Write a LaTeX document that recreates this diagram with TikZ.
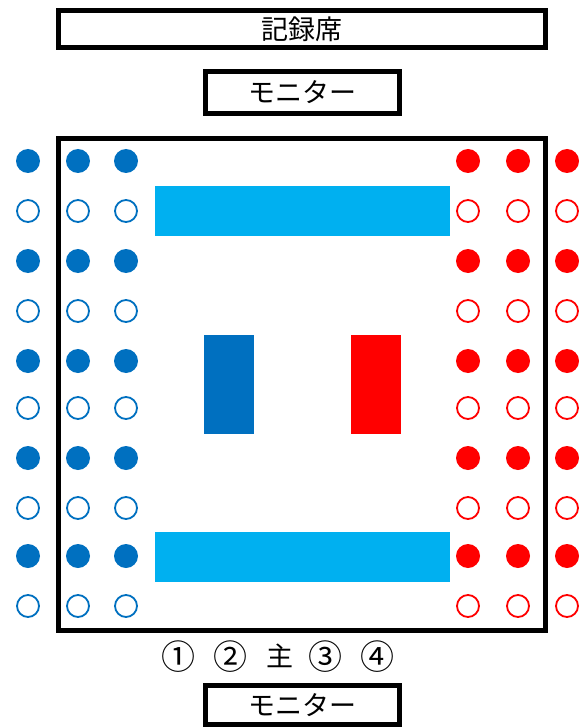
\documentclass[tikz,border=0pt]{standalone}
\usepackage{fontspec}
\setmainfont{Noto Sans CJK JP}
\usetikzlibrary{positioning}
\definecolor{teamblue}{HTML}{0070C0}
\definecolor{teamred}{HTML}{FF0000}
\definecolor{benchblue}{HTML}{00B0F0}
\tikzset{
  framebox/.style={draw=black,line width=5pt,inner sep=0pt},
  seaton/.style={circle,fill=#1,inner sep=0pt,minimum size=24pt},
  seatoff/.style={circle,draw=#1,line width=1.8pt,inner sep=0pt,minimum size=22pt},
  bench/.style={fill=benchblue,inner sep=0pt,minimum width=295pt,minimum height=50pt},
  flag/.style={fill=#1,inner sep=0pt,minimum width=50pt,minimum height=99pt},
  judgelab/.style={font=\fontsize{34pt}{36pt}\selectfont},
  every node/.style={font=\fontsize{27pt}{29pt}\selectfont}}
\begin{document}
\begin{tikzpicture}[x=1pt,y=-1pt]
\useasboundingbox (0,0) rectangle (584,727);
% recorder table and monitors
\node[framebox,minimum width=487pt,minimum height=37pt] (record) at (302,29) {記録席};
\node[framebox,minimum width=194pt,minimum height=42pt] (montop) at (302.5,92.5) {モニター};
\node[framebox,minimum width=194pt,minimum height=39pt] (monbot) at (302.5,705) {モニター};
% court
\node[framebox,minimum width=487pt,minimum height=492pt] (court) at (302,384.5) {};
\node[bench] (benchtop) at (302.5,211) {};
\node[bench] (benchbot) at (302.5,556.5) {};
\node[flag=teamblue] (blueflag) at (229,384.5) {};
\node[flag=teamred] (redflag) at (376,384.5) {};
% seats, filled on odd rows
\foreach \r/\y in {1/161,2/211,3/261,4/311,5/361,6/408,7/458,8/508,9/556,10/606} {
  \pgfmathparse{isodd(\r)}
  \ifnum\pgfmathresult=1
    \foreach \c/\x in {1/28,2/78,3/126} \node[seaton=teamblue] (b\r\c) at (\x,\y) {};
    \foreach \c/\x in {1/468,2/518,3/567} \node[seaton=teamred] (r\r\c) at (\x,\y) {};
  \else
    \foreach \c/\x in {1/28,2/78,3/126} \node[seatoff=teamblue] (b\r\c) at (\x,\y) {};
    \foreach \c/\x in {1/468,2/518,3/567} \node[seatoff=teamred] (r\r\c) at (\x,\y) {};
  \fi
}
% judges
\foreach \lab/\x [count=\i] in {①/178.5,②/230.5,③/325.5,④/377}
  \node[judgelab] (judge\i) at (\x,657) {\lab};
\node (chief) at (280,656) {主};
\end{tikzpicture}
\end{document}
